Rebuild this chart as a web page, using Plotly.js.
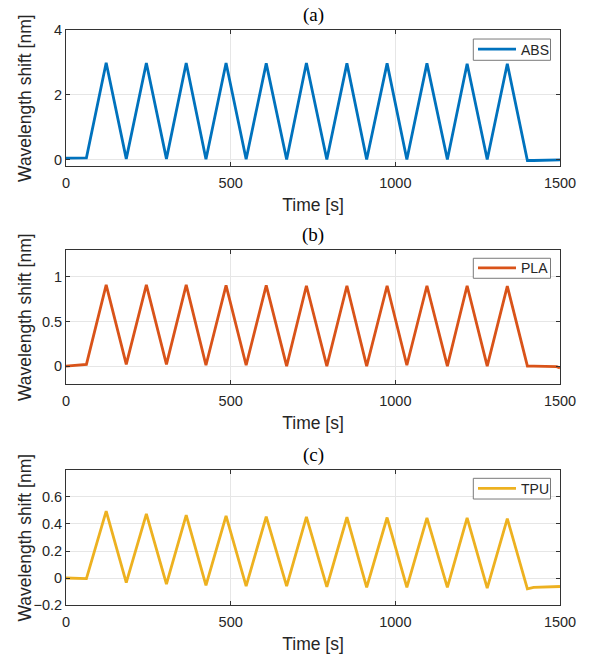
<!DOCTYPE html>
<html>
<head>
<meta charset="utf-8">
<script src="https://cdn.plot.ly/plotly-3.0.1.min.js"></script>
<style>html,body{margin:0;padding:0;background:#fff;}#chart{width:589px;height:659px;}</style>
</head>
<body>
<div id="chart"></div>
<script>
// Time [s]
const time = [0, 62, 122, 183, 244, 305, 365, 425, 486, 547, 608, 670, 730, 792, 853, 913, 975, 1035, 1096, 1158, 1218, 1279, 1340, 1401, 1420, 1490, 1500];
// Wavelength shift [nm]
const absShift = [0.04, 0.05, 2.99, 0.02, 2.98, 0.02, 2.98, 0.01, 2.98, 0.01, 2.97, 0.0, 2.98, 0.0, 2.97, 0.0, 2.97, 0.0, 2.97, 0.0, 2.96, 0.0, 2.96, -0.03, -0.03, -0.03, -0.01];
const plaShift = [0.0, 0.02, 0.91, 0.02, 0.91, 0.02, 0.91, 0.01, 0.905, 0.01, 0.905, 0.0, 0.90, 0.0, 0.90, 0.0, 0.90, 0.01, 0.90, 0.0, 0.90, 0.0, 0.895, 0.0, 0.0, -0.005, -0.02];
const tpuShift = [0.0, -0.005, 0.495, -0.035, 0.475, -0.045, 0.465, -0.055, 0.46, -0.06, 0.455, -0.06, 0.452, -0.065, 0.45, -0.07, 0.448, -0.07, 0.446, -0.07, 0.445, -0.075, 0.44, -0.08, -0.07, -0.064, -0.063];
const seriesNames = ["ABS", "PLA", "TPU"];
const panelLabels = ["(a)", "(b)", "(c)"];
const xTicks = [0, 500, 1000, 1500];
const yTicksA = [0, 2, 4];
const yTicksB = [0, 0.5, 1];
const yTicksC = [-0.2, 0, 0.2, 0.4, 0.6];

const colors = ["#0072BD", "#D95319", "#EDB120"];
const txt = "#262626";
const font = "Liberation Sans, Arial, sans-serif";

const traces = [absShift, plaShift, tpuShift].map((y, i) => ({
  x: time, y: y, type: "scatter", mode: "lines", name: seriesNames[i],
  line: {color: colors[i], width: 2.8},
  xaxis: i === 0 ? "x" : "x" + (i + 1),
  yaxis: i === 0 ? "y" : "y" + (i + 1),
  legend: i === 0 ? "legend" : "legend" + (i + 1)
}));

function xa(anchor) {
  return {
    anchor: anchor, range: [0, 1500], tickvals: xTicks, ticks: "inside", ticklen: 4,
    tickcolor: "#333", showline: true, linecolor: "#333", linewidth: 1, mirror: "ticks",
    showgrid: true, gridcolor: "#e6e6e6", zeroline: false,
    tickfont: {family: font, size: 14.5, color: txt}, ticklabelstandoff: 4,
    title: {text: "Time [s]", font: {family: font, size: 17.5, color: txt}, standoff: 8}
  };
}
function ya(anchor, dom, range, ticks) {
  return {
    anchor: anchor, domain: dom, range: range, tickvals: ticks, ticks: "inside", ticklen: 4,
    tickcolor: "#333", showline: true, linecolor: "#333", linewidth: 1, mirror: "ticks",
    showgrid: true, gridcolor: "#e6e6e6", zeroline: false,
    tickfont: {family: font, size: 14.5, color: txt}
  };
}
function lg(y) {
  return {x: 0.8239, xanchor: "left", y: y, yanchor: "middle", bgcolor: "rgba(0,0,0,0)",
    borderwidth: 0, font: {family: font, size: 14, color: txt},
    itemwidth: 38, tracegroupgap: 0};
}

const domA = [0.7635, 1.0], domB = [0.3843, 0.6174], domC = [0, 0.2348];
const doms = [domA, domB, domC];
const boxY = [[0.9473, 0.9843], [0.5682, 0.6030], [0.1843, 0.2203]];

const annotations = panelLabels.map((t, i) => ({
  text: t, xref: "paper", yref: "paper", x: 0.5, xanchor: "center",
  y: doms[i][1], yanchor: "bottom", yshift: 2, showarrow: false,
  font: {family: "Liberation Serif, Times New Roman, serif", size: 19, color: "#000"}
})).concat(doms.map(d => ({
  text: "Wavelength shift [nm]", xref: "paper", yref: "paper",
  x: -0.083, xanchor: "center", y: (d[0] + d[1]) / 2, yanchor: "middle",
  textangle: -90, showarrow: false,
  font: {family: font, size: 17.5, color: txt}
})));

const shapes = boxY.map(b => ({
  type: "rect", xref: "paper", yref: "paper", x0: 0.8245, x1: 0.9808, y0: b[0], y1: b[1],
  fillcolor: "#ffffff", line: {color: "#7a7a7a", width: 1}, layer: "above"
}));

const layout = {
  width: 589, height: 659,
  margin: {l: 66, r: 29, t: 30, b: 54},
  paper_bgcolor: "#fff", plot_bgcolor: "#fff",
  font: {family: font, color: txt},
  showlegend: true,
  xaxis: xa("y"), xaxis2: xa("y2"), xaxis3: xa("y3"),
  yaxis: ya("x", domA, [-0.2, 4], yTicksA),
  yaxis2: ya("x2", domB, [-0.2, 1.3], yTicksB),
  yaxis3: ya("x3", domC, [-0.2, 0.8], yTicksC),
  legend: lg(0.9659), legend2: lg(0.5856), legend3: lg(0.2023),
  annotations: annotations,
  shapes: shapes
};
Plotly.newPlot("chart", traces, layout, {displayModeBar: false, staticPlot: true});
</script>
</body>
</html>
